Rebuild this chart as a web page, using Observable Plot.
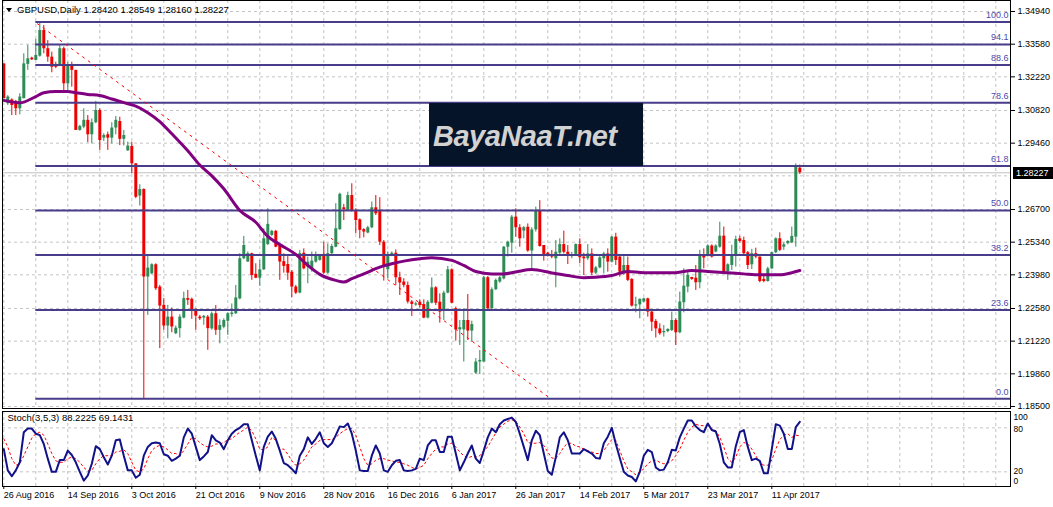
<!DOCTYPE html>
<html><head><meta charset="utf-8">
<script src="https://cdn.jsdelivr.net/npm/d3@7"></script>
<script src="https://cdn.jsdelivr.net/npm/@observablehq/plot@0.6"></script>
<style>
body{margin:0;background:#fff;}
#wrap{position:relative;width:1053px;height:507px;overflow:hidden;font-family:"Liberation Sans",Arial,sans-serif;background:#fff;}
#wrap svg{position:absolute;left:0;overflow:visible;}
#title{position:absolute;left:6px;top:4px;font-size:9.5px;color:#000;white-space:nowrap;line-height:12px;}
#title .tri{display:inline-block;width:0;height:0;border-left:3.5px solid transparent;border-right:3.5px solid transparent;border-top:4px solid #000;margin-right:5px;vertical-align:1px;}
#logo{position:absolute;left:429px;top:103px;width:214px;height:63px;background:#061429;}
#logo span{position:absolute;left:4px;top:19px;font:italic bold 29px "Liberation Sans",Arial,sans-serif;line-height:1;color:#d2d2d2;letter-spacing:-0.5px;white-space:nowrap;}
#pbox{position:absolute;left:1013px;width:40px;height:12px;background:#000;color:#fff;font-size:9px;line-height:12px;padding-left:3px;box-sizing:border-box;}
</style></head><body><div id="wrap"></div>
<script>
// ---------- DATA ----------
const titleText = "GBPUSD,Daily  1.28420 1.28549 1.28160 1.28227";
const stochTitle = "Stoch(3,5,3) 88.2225 69.1431";
const logoText = "BayaNaaT.net";

const openP = [1.3276,1.3110,1.3126,1.3120,1.3089,1.3131,1.3274,1.3300,1.3290,1.3308,
1.3415,1.3339,1.3304,1.3269,1.3272,1.3339,1.3193,1.3269,1.3249,1.2999,
1.3013,1.3041,1.2981,1.3031,1.3082,1.2967,1.2981,1.2967,1.3009,1.3036,
1.2962,1.2914,1.2932,1.2860,1.2726,1.2753,1.2389,1.2402,1.2440,1.2347,
1.2271,1.2185,1.2222,1.2153,1.2174,1.2218,1.2299,1.2296,1.2250,1.2222,
1.2218,1.2222,1.2173,1.2236,1.2167,1.2180,1.2205,1.2233,1.2236,1.2298,
1.2465,1.2451,1.2486,1.2400,1.2384,1.2419,1.2524,1.2562,1.2579,1.2520,
1.2453,1.2441,1.2409,1.2347,1.2322,1.2488,1.2430,1.2419,1.2451,1.2458,
1.2483,1.2405,1.2486,1.2513,1.2586,1.2677,1.2666,1.2728,1.2666,1.2627,
1.2586,1.2572,1.2594,1.2677,1.2666,1.2534,1.2419,1.2483,1.2488,1.2386,
1.2368,1.2354,1.2285,1.2272,1.2284,1.2274,1.2218,1.2280,1.2344,1.2284,
1.2250,1.2322,1.2419,1.2257,1.2169,1.2169,1.2208,1.2164,1.1989,1.2035,
1.2035,1.2386,1.2257,1.2336,1.2368,1.2381,1.2513,1.2530,1.2638,1.2594,
1.2580,1.2596,1.2497,1.2585,1.2666,1.2520,1.2488,1.2479,1.2465,1.2488,
1.2524,1.2492,1.2474,1.2483,1.2524,1.2472,1.2465,1.2485,1.2405,1.2427,
1.2465,1.2485,1.2451,1.2555,1.2472,1.2402,1.2437,1.2379,1.2268,1.2273,
1.2285,1.2298,1.2243,1.2204,1.2173,1.2157,1.2162,1.2166,1.2208,1.2157,
1.2282,1.2347,1.2387,1.2384,1.2365,1.2476,1.2476,1.2518,1.2493,1.2513,
1.2559,1.2412,1.2437,1.2479,1.2548,1.2541,1.2490,1.2440,1.2486,1.2472,
1.2379,1.2370,1.2423,1.2490,1.2548,1.2513,1.2528,1.2531,1.2555,1.2842];
const highP = [1.3276,1.3144,1.3131,1.3124,1.3152,1.3318,1.3353,1.3304,1.3378,1.3450,
1.3436,1.3373,1.3325,1.3283,1.3353,1.3346,1.3283,1.3283,1.3249,1.3020,
1.3089,1.3061,1.3047,1.3120,1.3089,1.2985,1.2992,1.3031,1.3057,1.3054,
1.2999,1.2950,1.2950,1.2860,1.2773,1.2756,1.2479,1.2444,1.2444,1.2354,
1.2299,1.2271,1.2260,1.2185,1.2232,1.2326,1.2333,1.2301,1.2257,1.2229,
1.2229,1.2229,1.2243,1.2270,1.2211,1.2215,1.2239,1.2277,1.2354,1.2486,
1.2558,1.2493,1.2488,1.2444,1.2458,1.2590,1.2673,1.2583,1.2583,1.2525,
1.2486,1.2474,1.2416,1.2354,1.2499,1.2506,1.2472,1.2493,1.2493,1.2483,
1.2534,1.2527,1.2525,1.2694,1.2738,1.2691,1.2742,1.2777,1.2673,1.2631,
1.2590,1.2600,1.2701,1.2728,1.2719,1.2541,1.2493,1.2493,1.2502,1.2409,
1.2382,1.2368,1.2291,1.2284,1.2294,1.2294,1.2291,1.2385,1.2349,1.2319,
1.2330,1.2433,1.2423,1.2264,1.2208,1.2257,1.2316,1.2205,1.2049,1.2083,
1.2391,1.2391,1.2344,1.2381,1.2391,1.2516,1.2538,1.2645,1.2673,1.2607,
1.2599,1.2610,1.2594,1.2680,1.2707,1.2520,1.2492,1.2499,1.2541,1.2548,
1.2580,1.2520,1.2492,1.2527,1.2548,1.2488,1.2524,1.2506,1.2433,1.2474,
1.2492,1.2506,1.2558,1.2571,1.2479,1.2474,1.2472,1.2382,1.2305,1.2298,
1.2301,1.2301,1.2250,1.2212,1.2194,1.2187,1.2173,1.2243,1.2215,1.2326,
1.2423,1.2409,1.2388,1.2437,1.2500,1.2506,1.2523,1.2523,1.2523,1.2617,
1.2597,1.2444,1.2521,1.2559,1.2559,1.2555,1.2495,1.2504,1.2509,1.2472,
1.2393,1.2430,1.2493,1.2552,1.2573,1.2531,1.2540,1.2597,1.2860,1.2855];
const lowP = [1.3131,1.3103,1.3061,1.3061,1.3064,1.3131,1.3249,1.3290,1.3290,1.3304,
1.3318,1.3283,1.3239,1.3256,1.3269,1.3165,1.3158,1.3179,1.2999,1.2996,
1.3006,1.2948,1.2943,1.3027,1.2916,1.2953,1.2916,1.2943,1.2981,1.2936,
1.2934,1.2912,1.2819,1.2715,1.2684,1.1882,1.2229,1.2398,1.2333,1.2091,
1.2167,1.2132,1.2157,1.2149,1.2135,1.2215,1.2271,1.2213,1.2167,1.2208,
1.2188,1.2084,1.2167,1.2146,1.2111,1.2173,1.2146,1.2222,1.2233,1.2294,
1.2461,1.2451,1.2375,1.2382,1.2350,1.2416,1.2520,1.2558,1.2511,1.2375,
1.2405,1.2375,1.2302,1.2316,1.2319,1.2419,1.2361,1.2409,1.2447,1.2455,
1.2400,1.2400,1.2483,1.2511,1.2583,1.2624,1.2663,1.2659,1.2569,1.2548,
1.2552,1.2569,1.2590,1.2645,1.2520,1.2372,1.2382,1.2474,1.2354,1.2312,
1.2344,1.2277,1.2225,1.2267,1.2260,1.2215,1.2215,1.2277,1.2270,1.2197,
1.2208,1.2319,1.2277,1.2122,1.2104,1.2035,1.2125,1.2118,1.1983,1.1983,
1.2035,1.2253,1.2253,1.2333,1.2363,1.2377,1.2472,1.2488,1.2555,1.2513,
1.2548,1.2492,1.2423,1.2576,1.2513,1.2455,1.2472,1.2465,1.2344,1.2479,
1.2485,1.2441,1.2465,1.2479,1.2444,1.2395,1.2458,1.2395,1.2399,1.2423,
1.2402,1.2409,1.2447,1.2437,1.2388,1.2395,1.2370,1.2264,1.2240,1.2215,
1.2282,1.2222,1.2162,1.2135,1.2146,1.2139,1.2157,1.2162,1.2104,1.2153,
1.2240,1.2323,1.2375,1.2333,1.2340,1.2423,1.2472,1.2468,1.2490,1.2509,
1.2409,1.2375,1.2416,1.2430,1.2531,1.2481,1.2420,1.2420,1.2465,1.2365,
1.2365,1.2368,1.2420,1.2486,1.2495,1.2500,1.2523,1.2528,1.2513,1.2816];
const closeP = [1.3131,1.3138,1.3103,1.3089,1.3138,1.3276,1.3297,1.3293,1.3311,1.3415,
1.3339,1.3304,1.3262,1.3262,1.3339,1.3193,1.3269,1.3249,1.2999,1.3016,
1.3041,1.2981,1.3031,1.3082,1.2957,1.2978,1.2967,1.3009,1.3041,1.2962,
1.2978,1.2934,1.2860,1.2721,1.2753,1.2389,1.2426,1.2440,1.2340,1.2268,
1.2185,1.2222,1.2181,1.2176,1.2222,1.2299,1.2292,1.2250,1.2226,1.2215,
1.2225,1.2174,1.2236,1.2167,1.2187,1.2208,1.2236,1.2239,1.2302,1.2465,
1.2520,1.2486,1.2395,1.2384,1.2419,1.2548,1.2608,1.2579,1.2513,1.2451,
1.2433,1.2405,1.2347,1.2322,1.2486,1.2423,1.2451,1.2455,1.2475,1.2475,
1.2405,1.2486,1.2516,1.2590,1.2733,1.2669,1.2728,1.2663,1.2624,1.2583,
1.2576,1.2594,1.2677,1.2652,1.2534,1.2437,1.2474,1.2488,1.2386,1.2364,
1.2354,1.2285,1.2275,1.2277,1.2270,1.2218,1.2284,1.2344,1.2280,1.2243,
1.2322,1.2419,1.2280,1.2169,1.2178,1.2208,1.2164,1.2191,1.2035,1.2042,
1.2386,1.2257,1.2336,1.2375,1.2386,1.2513,1.2534,1.2638,1.2594,1.2548,
1.2594,1.2497,1.2585,1.2666,1.2516,1.2483,1.2479,1.2472,1.2492,1.2524,
1.2492,1.2483,1.2479,1.2524,1.2469,1.2465,1.2485,1.2405,1.2427,1.2469,
1.2485,1.2451,1.2555,1.2458,1.2409,1.2437,1.2375,1.2268,1.2273,1.2296,
1.2298,1.2243,1.2201,1.2173,1.2153,1.2162,1.2171,1.2208,1.2157,1.2285,
1.2351,1.2395,1.2379,1.2365,1.2476,1.2468,1.2518,1.2472,1.2518,1.2559,
1.2412,1.2440,1.2479,1.2545,1.2537,1.2486,1.2437,1.2486,1.2472,1.2370,
1.2370,1.2423,1.2490,1.2548,1.2500,1.2523,1.2537,1.2558,1.2846,1.2823];

// moving average read at sample bars
const maIdx = [0,4,8,10,13,16,18,21,24,27,31,33,36,39,42,46,49,52,55,59,63,66,69,73,76,79,83,85,87,90,94,97,100,104,107,112,115,118,122,125,128,132,137,141,145,148,152,156,160,168,172,176,181,185,189,194,197,199];
const maVal = [1.3124,1.3114,1.3140,1.3156,1.3161,1.3161,1.3156,1.3149,1.3144,1.3130,1.3110,1.3100,1.3073,1.3036,1.2985,1.2914,1.2855,1.2810,1.2756,1.2666,1.2617,1.2558,1.2524,1.2483,1.2437,1.2400,1.2375,1.2368,1.2382,1.2402,1.2430,1.2444,1.2455,1.2465,1.2469,1.2458,1.2437,1.2412,1.2402,1.2402,1.2410,1.2420,1.2406,1.2395,1.2386,1.2388,1.2395,1.2412,1.2407,1.2407,1.2416,1.2412,1.2407,1.2402,1.2398,1.2398,1.2407,1.2416];

// dotted trend line end points
const trendIdx = [8.4, 136.7];
const trendVal = [1.3443, 1.1883];

// Fibonacci retracement
const fibLabels = ["0.0","23.6","38.2","50.0","61.8","78.6","88.6","94.1","100.0"];
const fibPrices = [1.1882,1.2252,1.2481,1.2666,1.2851,1.3114,1.3271,1.3357,1.3450];
const fibStart = 8;

const currentPrice = 1.28227;
const priceGrid = [1.3494,1.3358,1.3222,1.3082,1.2946,1.2810,1.2670,1.2534,1.2398,1.2258,1.2122,1.1986,1.1850];
const priceLabels = [1.3494,1.3358,1.3222,1.3082,1.2946,1.2670,1.2534,1.2398,1.2258,1.2122,1.1986,1.1850];

const stochK = [51,22,14,22,33,74,79,79,72,70,58,38,20,20,36,36,49,43,33,20,
8,15,31,55,51,40,30,42,63,64,42,22,22,12,16,42,54,59,60,59,
44,42,35,38,42,67,79,72,54,36,41,47,70,63,60,51,63,72,77,80,
85,85,63,42,22,54,68,75,65,49,32,29,24,18,42,51,67,58,65,74,
59,54,59,70,82,81,86,72,49,22,21,21,42,56,45,22,20,29,35,36,
22,21,22,24,38,36,56,63,63,47,47,68,68,45,22,33,45,56,38,32,
49,67,79,74,85,90,92,94,88,72,54,36,63,76,70,45,21,16,40,67,
74,63,45,45,45,51,48,45,39,38,59,68,80,58,39,20,15,13,7,20,
42,50,47,26,22,23,33,50,49,67,79,90,90,82,77,74,86,77,75,58,
33,26,26,55,74,77,54,36,38,35,18,18,51,85,83,72,51,51,81,88.2];
const stochD = [65,54,38,29,31,42,54,66,72,74,70,58,45,35,33,33,38,40,38,33,
26,21,22,31,38,42,42,42,47,48,50,45,33,22,20,24,38,49,54,56,
54,50,45,45,42,49,58,67,65,60,56,54,55,58,58,60,64,65,70,74,
77,81,76,65,51,50,54,67,63,51,51,44,35,29,31,36,45,54,58,63,
64,64,64,67,72,76,79,79,70,54,38,29,31,36,38,38,36,35,33,33,
31,29,26,24,26,29,38,45,51,54,54,58,59,54,47,42,39,41,40,42,
49,54,64,73,81,85,89,91,89,81,72,60,59,59,60,56,47,39,38,45,
54,59,59,55,54,51,49,47,45,45,49,57,64,63,49,35,24,20,16,20,
24,31,35,36,33,31,32,35,42,51,63,74,81,85,83,83,83,79,76,67,
54,38,33,40,54,60,58,51,42,33,29,29,36,51,64,70,72,67,70,69.1];

const dateIdx = [0,16,32,48,64,80,96,112,128,144,160,176,192];
const dateLabels = ["26 Aug 2016","14 Sep 2016","3 Oct 2016","21 Oct 2016","9 Nov 2016","28 Nov 2016","16 Dec 2016","6 Jan 2017","26 Jan 2017","14 Feb 2017","5 Mar 2017","23 Mar 2017","11 Apr 2017"];
const gridIdx = d3.range(0, 251, 8);

// ---------- BUILD ----------
const X_DOMAIN = [-0.325, 251.675];
const FONT = "'Liberation Sans', Arial, sans-serif";
const bars = openP.map((o, i) => ({i, o, h: highP[i], l: lowP[i], c: closeP[i]}));
const bullBars = bars.filter(d => d.c >= d.o);
const bearBars = bars.filter(d => d.c < d.o);
const BULL = "#2e8b57", BEAR = "#ee0000";
const grid = {stroke: "#c4c4c4", strokeDasharray: "3,3", strokeWidth: 1};
const fib = fibPrices.map((p, k) => ({p, label: fibLabels[k]}));
const ma = maIdx.map((x, k) => ({x, y: maVal[k]}));
const trend = trendIdx.map((x, k) => ({x, y: trendVal[k]}));
const kLine = stochK.map((v, i) => ({i, v}));
const dLine = stochD.map((v, i) => ({i, v}));
const dateMap = new Map(dateIdx.map((d, k) => [d, dateLabels[k]]));

const main = Plot.plot({
  width: 1053, height: 408,
  marginLeft: 2, marginRight: 43, marginTop: 0, marginBottom: 0,
  x: {domain: X_DOMAIN, axis: null},
  y: {domain: [1.18417, 1.35398], axis: null},
  style: {fontFamily: FONT, fontSize: "9px", background: "transparent", overflow: "visible"},
  marks: [
    Plot.ruleY(priceGrid, grid),
    Plot.ruleX(gridIdx, grid),
    Plot.ruleY([currentPrice], {stroke: "#c0c0c0", strokeWidth: 1}),
    Plot.ruleX(bullBars, {x: "i", y1: "l", y2: "h", stroke: BULL, strokeWidth: 1}),
    Plot.ruleX(bearBars, {x: "i", y1: "l", y2: "h", stroke: BEAR, strokeWidth: 1}),
    Plot.ruleX(bullBars, {x: "i", y1: "o", y2: "c", stroke: BULL, strokeWidth: 3}),
    Plot.ruleX(bearBars, {x: "i", y1: "o", y2: "c", stroke: BEAR, strokeWidth: 3}),
    Plot.ruleY(fib, {y: "p", x1: fibStart, x2: X_DOMAIN[1], stroke: "#483d8b", strokeWidth: 2}),
    Plot.text(fib, {y: "p", x: X_DOMAIN[1], text: "label", textAnchor: "end", dx: -2, dy: -7, fill: "#4a4aa8", fontSize: 9}),
    Plot.line(trend, {x: "x", y: "y", stroke: "#ff0000", strokeWidth: 1, strokeDasharray: "2,5"}),
    Plot.line(ma, {x: "x", y: "y", stroke: "#800080", strokeWidth: 3, curve: "monotone-x"}),
    Plot.axisY(priceLabels, {anchor: "right", tickSize: 4, tickPadding: 3, tickFormat: d3.format(".5f"), label: null, fontSize: 9, fill: "#000", stroke: "#000"}),
    Plot.frame({stroke: "#000"})
  ]
});
main.style.top = "0px";

const stoch = Plot.plot({
  width: 1053, height: 98,
  marginLeft: 2, marginRight: 43, marginTop: 2, marginBottom: 21,
  x: {domain: X_DOMAIN, axis: null},
  y: {domain: [0, 102.3], axis: null},
  style: {fontFamily: FONT, fontSize: "9px", background: "transparent", overflow: "visible"},
  marks: [
    Plot.ruleY([20, 80], grid),
    Plot.ruleX(gridIdx, grid),
    Plot.line(dLine, {x: "i", y: "v", stroke: "#ff0000", strokeWidth: 1, strokeDasharray: "2,3"}),
    Plot.line(kLine, {x: "i", y: "v", stroke: "#11118a", strokeWidth: 2}),
    Plot.text([80], {x: X_DOMAIN[1], y: d => d, text: d => String(d), textAnchor: "start", dx: 3, dy: 1, fontSize: 8.5, fill: "#000"}),
    Plot.text([20], {x: X_DOMAIN[1], y: d => d, text: d => String(d), textAnchor: "start", dx: 3, dy: -1, fontSize: 8.5, fill: "#000"}),
    Plot.text([100], {x: X_DOMAIN[1], y: d => d, text: d => String(d), textAnchor: "start", dx: 3, dy: 4.5, fontSize: 8.5, fill: "#000"}),
    Plot.text([0], {x: X_DOMAIN[1], y: d => d, text: d => String(d), textAnchor: "start", dx: 3, dy: -5.5, fontSize: 8.5, fill: "#000"}),
    Plot.text([stochTitle], {frameAnchor: "top-left", dx: 5, dy: 3, lineAnchor: "top", textAnchor: "start", fontSize: 9.5, fill: "#000"}),
    Plot.axisX(dateIdx, {anchor: "bottom", tickSize: 3, tickPadding: 2, textAnchor: "start", tickFormat: d => dateMap.get(d), label: null, fontSize: 9, fill: "#000", stroke: "#000"}),
    Plot.frame({stroke: "#000"})
  ]
});
stoch.style.top = "409px";

const wrap = document.getElementById("wrap");
wrap.appendChild(main);
wrap.appendChild(stoch);

const title = document.createElement("div");
title.id = "title";
title.innerHTML = '<span class="tri"></span>';
title.appendChild(document.createTextNode(titleText));
wrap.appendChild(title);

const logo = document.createElement("div");
logo.id = "logo";
const ls = document.createElement("span");
ls.textContent = logoText;
logo.appendChild(ls);
wrap.appendChild(logo);

const yCur = main.scale("y").apply(currentPrice);
const pbox = document.createElement("div");
pbox.id = "pbox";
pbox.style.top = (yCur - 5.5) + "px";
pbox.textContent = d3.format(".5f")(currentPrice);
wrap.appendChild(pbox);
</script>
</body></html>
